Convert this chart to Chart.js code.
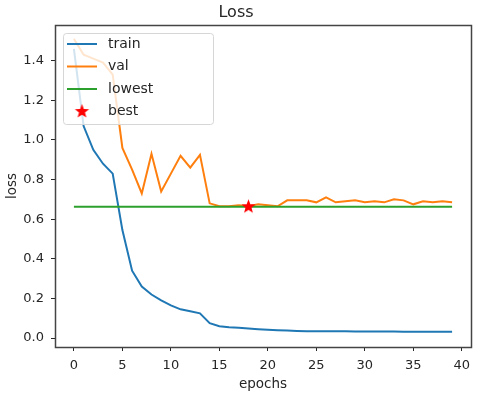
<!DOCTYPE html>
<html>
<head>
<meta charset="utf-8">
<script src="https://cdn.jsdelivr.net/npm/chart.js@4"></script>
<style>
  body { margin: 0; background: #fff; }
  #wrap { width: 480px; height: 395px; }
</style>
</head>
<body>
<div id="wrap"><canvas id="myChart" width="480" height="395"></canvas></div>
<script>
// values
var trainLoss = [1.46, 1.07, 0.95, 0.88, 0.83, 0.545, 0.34, 0.26, 0.22, 0.19,
  0.165, 0.145, 0.135, 0.125, 0.075, 0.06, 0.055, 0.052, 0.048, 0.045,
  0.042, 0.04, 0.038, 0.036, 0.035, 0.035, 0.034, 0.034, 0.034, 0.033,
  0.033, 0.033, 0.033, 0.033, 0.032, 0.032, 0.032, 0.032, 0.032, 0.032];
var valLoss = [1.51, 1.43, 1.41, 1.39, 1.33, 0.96, 0.85, 0.73, 0.93, 0.74,
  0.83, 0.92, 0.86, 0.925, 0.68, 0.665, 0.665, 0.67, 0.665, 0.675,
  0.67, 0.665, 0.695, 0.695, 0.695, 0.685, 0.71, 0.685, 0.69, 0.695,
  0.685, 0.69, 0.685, 0.70, 0.695, 0.675, 0.69, 0.685, 0.69, 0.685];
var lowest = 0.663;
var bestEpoch = 18;
var xTicks = [0, 5, 10, 15, 20, 25, 30, 35, 40];
var yTicks = [0.0, 0.2, 0.4, 0.6, 0.8, 1.0, 1.2, 1.4];

var FONT = "'DejaVu Sans', sans-serif";
var INK = "#262626";

function toPoints(arr) {
  return arr.map(function (v, i) { return { x: i, y: v }; });
}

// filled five point star used for "best"
function makeStar(r) {
  var c = document.createElement("canvas");
  var s = Math.ceil(r * 2 + 2);
  c.width = s; c.height = s;
  var g = c.getContext("2d");
  g.beginPath();
  for (var k = 0; k < 10; k++) {
    var rad = k % 2 === 0 ? r : r * 0.42;
    var a = -Math.PI / 2 + k * Math.PI / 5;
    var px = s / 2 + rad * Math.cos(a), py = s / 2 + rad * Math.sin(a);
    if (k === 0) g.moveTo(px, py); else g.lineTo(px, py);
  }
  g.closePath();
  g.fillStyle = "#ff0000";
  g.fill();
  return c;
}
var star = makeStar(7.5);

var framePlugin = {
  id: "frame",
  afterDraw: function (chart) {
    var a = chart.chartArea, ctx = chart.ctx;
    ctx.save();
    ctx.strokeStyle = "#444";
    ctx.lineWidth = 1.5;
    ctx.strokeRect(Math.round(a.left) + 0.5, Math.round(a.top) + 0.5,
      Math.round(a.right - a.left), Math.round(a.bottom - a.top));

    // legend box in the upper left, like matplotlib
    var x0 = a.left + 8, y0 = a.top + 8, w = 150, h = 91;
    ctx.beginPath();
    ctx.roundRect(x0 + 0.5, y0 + 0.5, w, h, 3);
    ctx.fillStyle = "rgba(255,255,255,0.8)";
    ctx.fill();
    ctx.strokeStyle = "#d6d6d6";
    ctx.lineWidth = 1;
    ctx.stroke();
    ctx.font = "14px " + FONT;
    ctx.textBaseline = "middle";
    ctx.fillStyle = INK;
    chart.data.datasets.forEach(function (ds, i) {
      var yy = y0 + 11 + i * 22.5;
      if (ds.label === "best") {
        ctx.drawImage(star, x0 + 19 - star.width / 2, yy - star.height / 2);
      } else {
        ctx.beginPath();
        ctx.moveTo(x0 + 4, yy);
        ctx.lineTo(x0 + 34, yy);
        ctx.strokeStyle = ds.borderColor;
        ctx.lineWidth = 2;
        ctx.stroke();
      }
      ctx.fillStyle = INK;
      ctx.fillText(ds.label, x0 + 45, yy);
    });
    ctx.restore();
  }
};

var ctx = document.getElementById("myChart").getContext("2d");
var myChart = new Chart(ctx, {
  type: "line",
  data: {
    datasets: [
      {
        label: "train",
        data: toPoints(trainLoss),
        borderColor: "#1f77b4",
        borderWidth: 2,
        pointRadius: 0,
        tension: 0,
        order: 3,
      },
      {
        label: "val",
        data: toPoints(valLoss),
        borderColor: "#ff7f0e",
        borderWidth: 2,
        pointRadius: 0,
        tension: 0,
        order: 2,
      },
      {
        label: "lowest",
        data: [{ x: 0, y: lowest }, { x: trainLoss.length - 1, y: lowest }],
        borderColor: "#2ca02c",
        borderWidth: 2,
        pointRadius: 0,
        tension: 0,
        order: 1,
      },
      {
        label: "best",
        data: [{ x: bestEpoch, y: lowest }],
        showLine: false,
        pointStyle: star,
        pointRadius: 8,
        borderColor: "#ff0000",
        backgroundColor: "#ff0000",
        order: 0,
      },
    ],
  },
  options: {
    responsive: false,
    animation: false,
    layout: {
      padding: { left: 0, right: 8, top: 0, bottom: 0 },
    },
    plugins: {
      legend: { display: false },
      tooltip: { enabled: false },
      title: {
        display: true,
        text: "Loss",
        color: INK,
        font: { family: FONT, size: 16, weight: "normal" },
        padding: { top: 3, bottom: 2.8 },
      },
    },
    scales: {
      x: {
        type: "linear",
        min: -1.95,
        max: 40.95,
        afterBuildTicks: function (scale) {
          scale.ticks = xTicks.map(function (v) { return { value: v }; });
        },
        afterFit: function (scale) { scale.height = 48; },
        grid: { drawOnChartArea: false, drawTicks: true, tickLength: 4, color: INK },
        border: { display: true, color: INK },
        ticks: {
          color: INK,
          font: { family: FONT, size: 13 },
          padding: 7,
          maxRotation: 0,
        },
        title: {
          display: true,
          text: "epochs",
          color: INK,
          font: { family: FONT, size: 13.5 },
          padding: { top: 2, bottom: 2 },
        },
      },
      y: {
        type: "linear",
        min: -0.045,
        max: 1.58,
        afterBuildTicks: function (scale) {
          scale.ticks = yTicks.map(function (v) { return { value: v }; });
        },
        afterFit: function (scale) { scale.width = 55; },
        grid: { drawOnChartArea: false, drawTicks: true, tickLength: 4, color: INK },
        border: { display: true, color: INK },
        ticks: {
          color: INK,
          font: { family: FONT, size: 13 },
          padding: 7,
          callback: function (v) { return v.toFixed(1); },
        },
        title: {
          display: true,
          text: "loss",
          color: INK,
          font: { family: FONT, size: 13.5 },
          padding: { top: 4, bottom: 4 },
        },
      },
    },
  },
  plugins: [framePlugin],
});
</script>
</body>
</html>
